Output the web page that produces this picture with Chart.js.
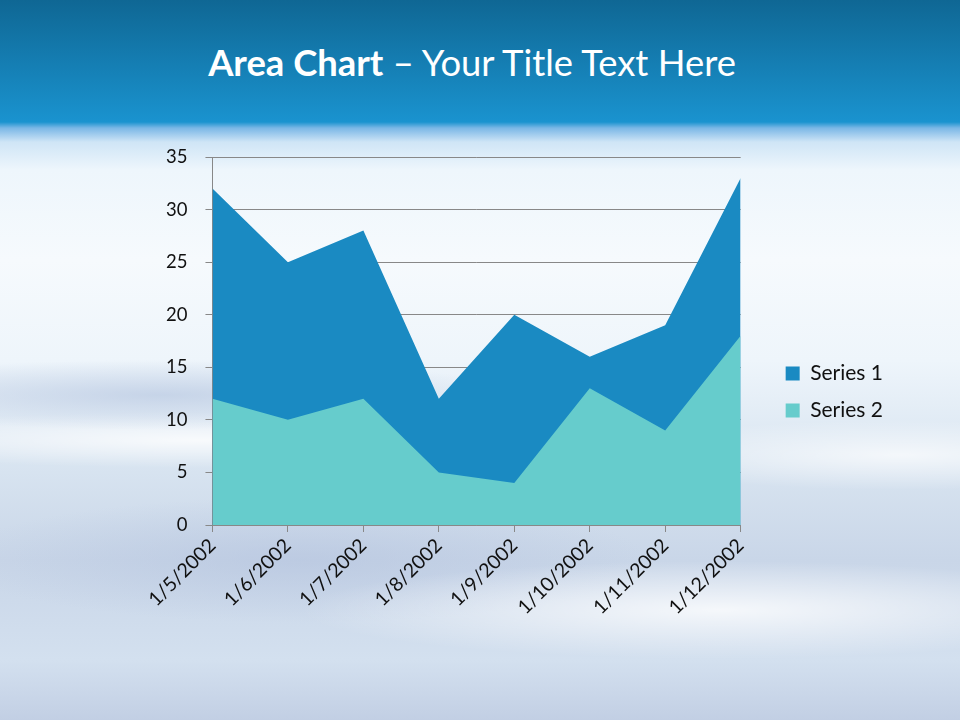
<!DOCTYPE html>
<html>
<head>
<meta charset="utf-8">
<script src="https://cdn.jsdelivr.net/npm/chart.js@4.4.0/dist/chart.umd.min.js"></script>
<style>
  html, body { margin: 0; padding: 0; }
  body {
    width: 960px; height: 720px; position: relative; overflow: hidden;
    font-family: Lato, "Open Sans", sans-serif;
    background:
      radial-gradient(ellipse 520px 50px at 160px 395px, rgba(190,205,228,0.8), rgba(190,205,228,0) 70%),
      radial-gradient(ellipse 560px 40px at 200px 440px, rgba(255,255,255,0.8), rgba(255,255,255,0) 70%),
      radial-gradient(ellipse 600px 70px at 720px 610px, rgba(255,255,255,0.8), rgba(255,255,255,0) 70%),
      radial-gradient(ellipse 420px 50px at 900px 455px, rgba(255,255,255,0.7), rgba(255,255,255,0) 70%),
      radial-gradient(ellipse 500px 90px at 300px 560px, rgba(180,195,222,0.6), rgba(180,195,222,0) 70%),
      linear-gradient(to bottom, #0f6794 0px, #1a93cf 122px, #7ab7e6 128px, #cfe5f6 142px, #eef6fc 170px, #f6fafd 260px, #eef5fb 360px, #d9e5f1 460px, #c9d6e8 560px, #d3e0ef 660px, #c2cfe4 720px);
  }
  #title {
    position: absolute; top: 38px; left: 0; width: 944px; text-align: center;
    color: #fff; font-size: 36.4px; line-height: 48px;
  }
  #title b { font-weight: 700; }
  #wrap { position: absolute; left: 0; top: 0; width: 960px; height: 720px; }
</style>
</head>
<body>
<div id="title"><b>Area Chart</b> – Your Title Text Here</div>
<div id="wrap"><canvas id="area-chart"></canvas></div>
<script>
// Dati del grafico
const categories = ['1/5/2002', '1/6/2002', '1/7/2002', '1/8/2002', '1/9/2002', '1/10/2002', '1/11/2002', '1/12/2002'];
const series1 = [32, 25, 28, 12, 20, 16, 19, 33];
const series2 = [12, 10, 12, 5, 4, 13, 9, 18];
const yTicks = [0, 5, 10, 15, 20, 25, 30, 35];

const ctx = document.getElementById('area-chart').getContext('2d');
new Chart(ctx, {
    type: 'line',
    data: {
        labels: categories,
        datasets: [
            {
                label: 'Series 1',
                data: series1,
                backgroundColor: '#1a8ac2',
                borderWidth: 0,
                pointRadius: 0,
                fill: 'origin',
                order: 2
            },
            {
                label: 'Series 2',
                data: series2,
                backgroundColor: '#66cccc',
                borderWidth: 0,
                pointRadius: 0,
                fill: 'origin',
                order: 1
            }
        ]
    },
    options: {
        responsive: true,
        maintainAspectRatio: false,
        animation: false,
        layout: { padding: { left: 148, top: 157, right: 67, bottom: 99 } },
        plugins: {
            tooltip: { enabled: false },
            legend: {
                position: 'right',
                // titolo vuoto: sposta le voci un po' più in basso
                title: { display: true, text: ' ', font: { size: 0 }, padding: 3 },
                labels: {
                    boxWidth: 14,
                    boxHeight: 14,
                    padding: 16,
                    color: '#111',
                    font: { family: 'Lato', size: 21 },
                    sort: (a, b) => a.datasetIndex - b.datasetIndex
                }
            }
        },
        scales: {
            x: {
                offset: false,
                grid: { display: true, drawOnChartArea: false, color: '#888', tickLength: 7 },
                border: { color: '#888' },
                ticks: {
                    color: '#111',
                    font: { family: 'Lato', size: 19.5 },
                    maxRotation: 45,
                    minRotation: 45,
                    padding: 2,
                    autoSkip: false
                }
            },
            y: {
                min: 0,
                max: 35,
                afterBuildTicks: axis => { axis.ticks = yTicks.map(v => ({ value: v })); },
                grid: { color: '#888', tickLength: 7 },
                border: { color: '#888' },
                ticks: {
                    color: '#111',
                    font: { family: 'Lato', size: 18.5 },
                    padding: 18
                }
            },
            // spazio vuoto tra area del grafico e legenda
            gap: {
                type: 'linear',
                position: 'right',
                display: true,
                grid: { display: false },
                border: { display: false },
                ticks: { display: false },
                afterFit: scale => { scale.width = 29; }
            }
        }
    }
});
</script>
</body>
</html>
